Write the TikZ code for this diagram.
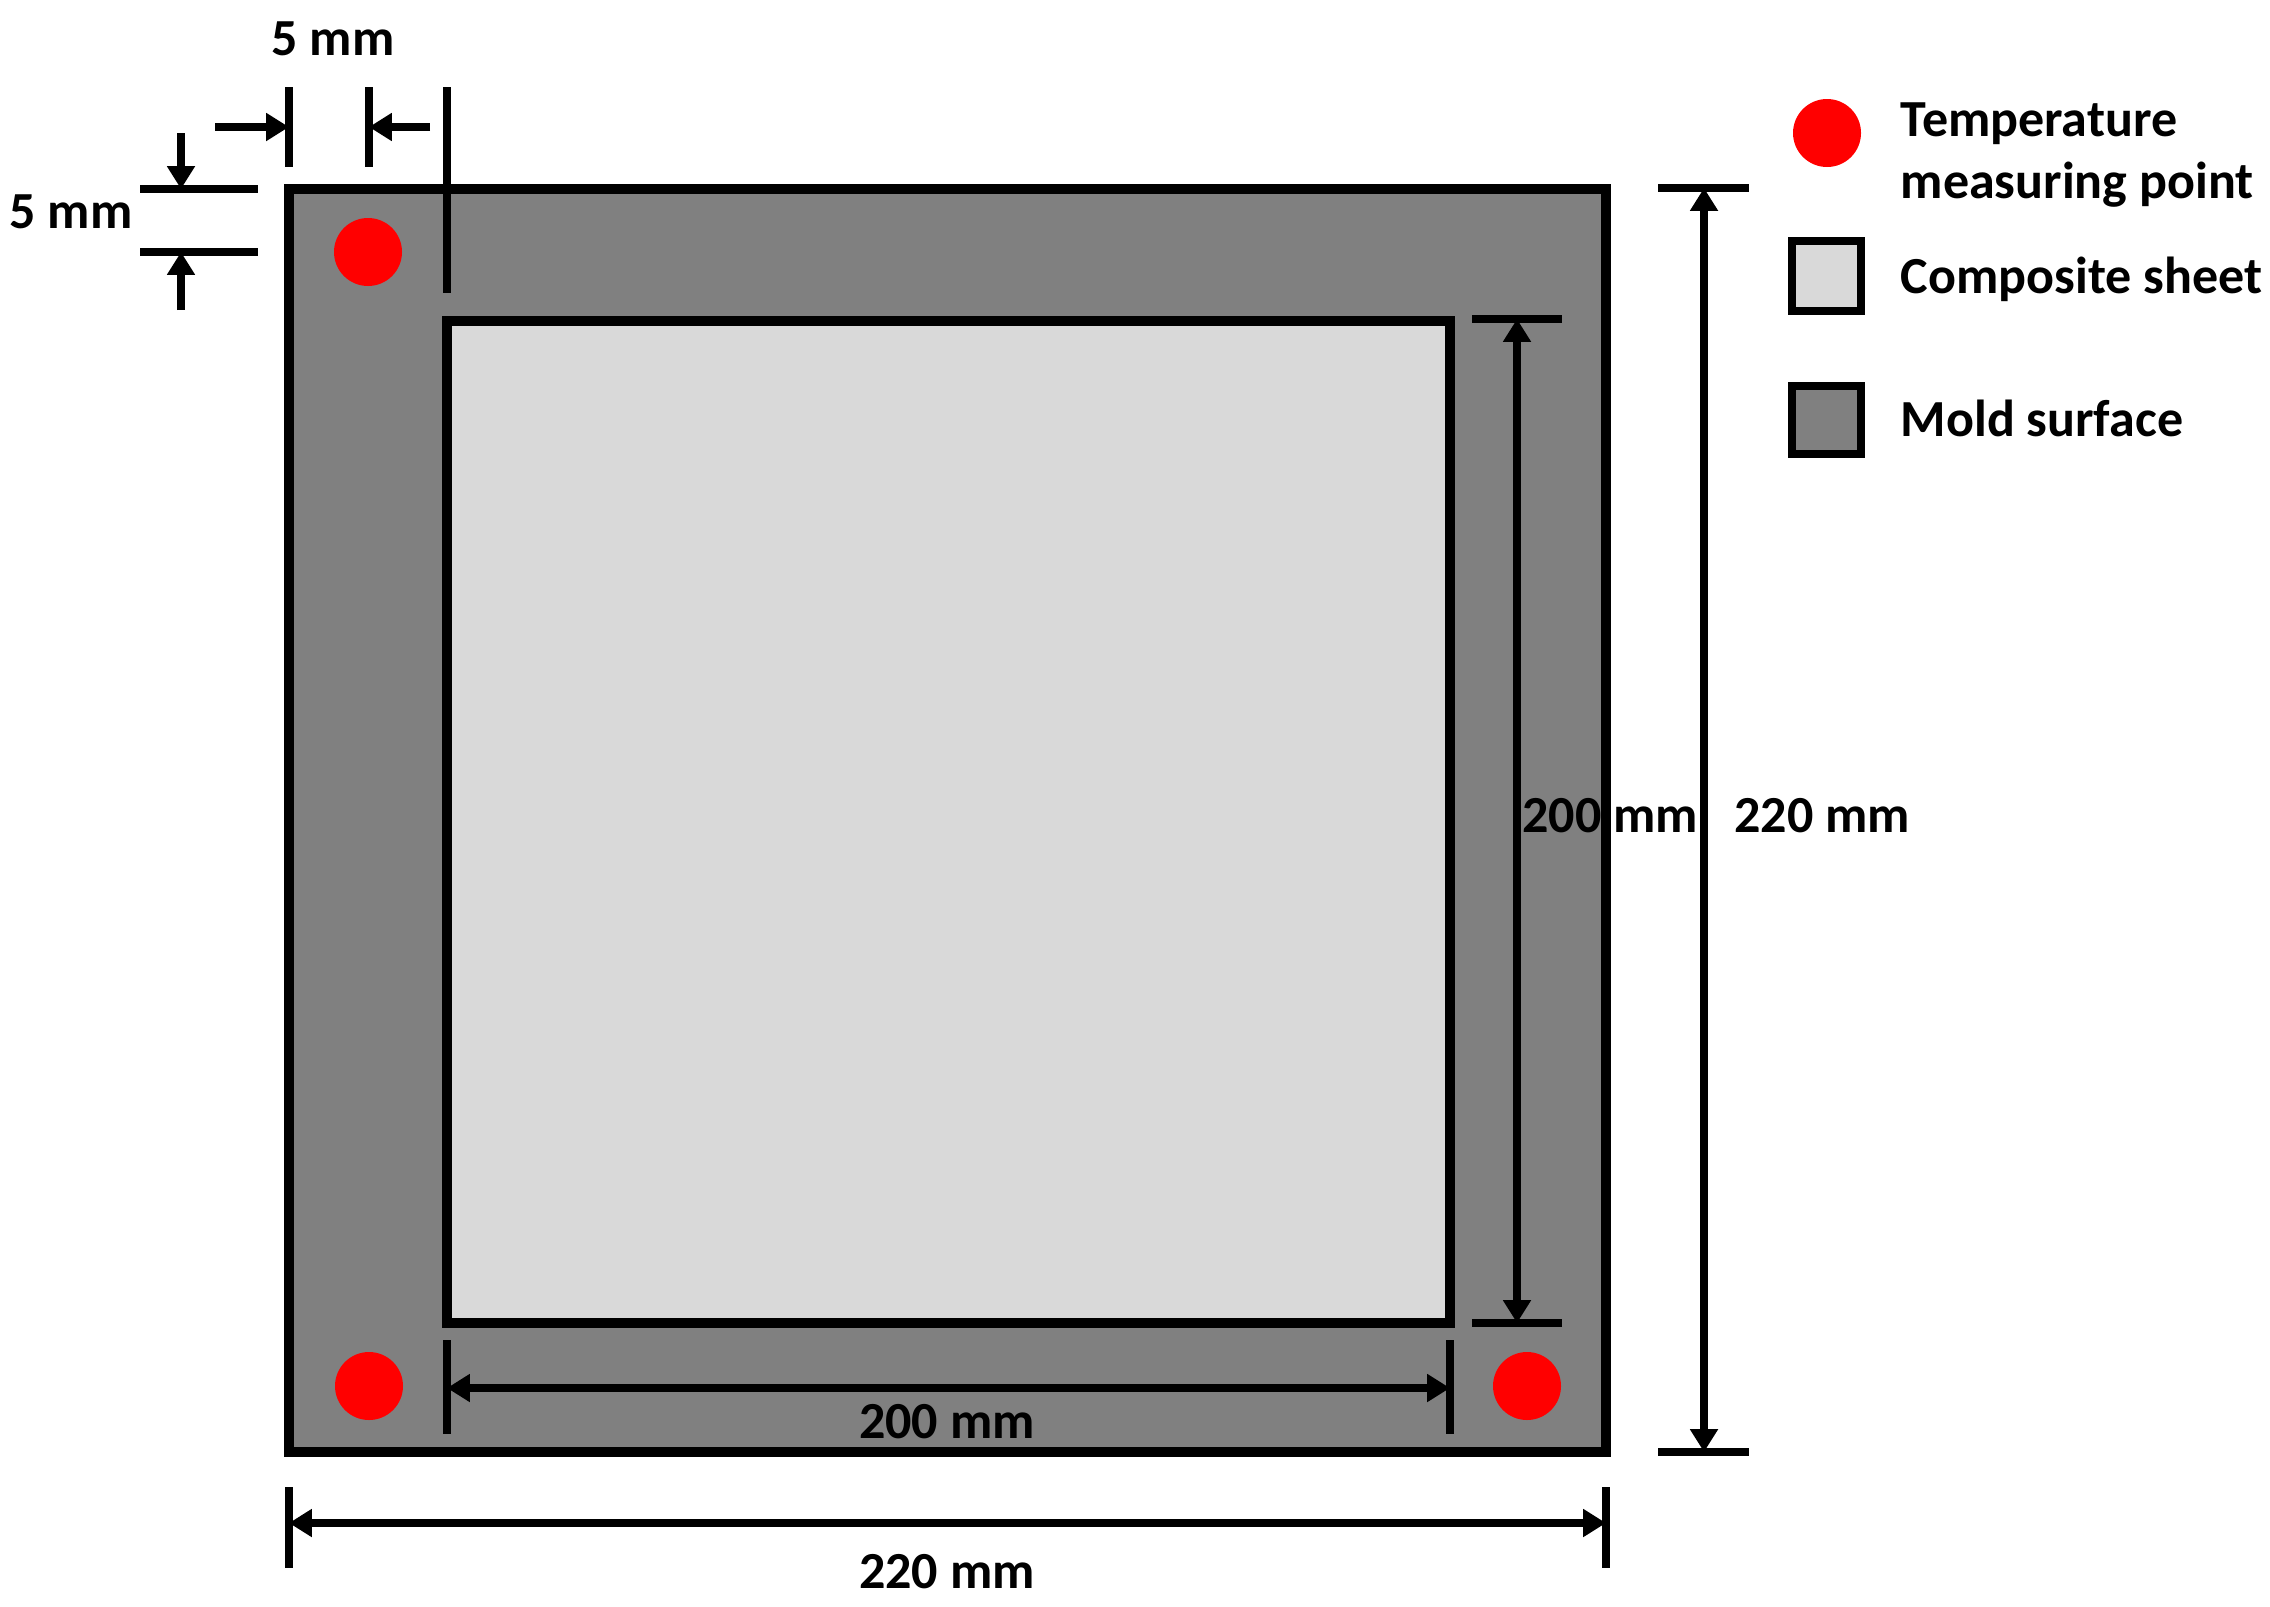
\documentclass[tikz,border=0pt]{standalone}
\usepackage{fontspec}
\setmainfont{Carlito}
\usetikzlibrary{arrows.meta}
\definecolor{mold}{HTML}{808080}
\definecolor{sheet}{HTML}{D9D9D9}
\definecolor{tpoint}{HTML}{FF0000}
\begin{document}
\begin{tikzpicture}[x=0.01cm,y=-0.01cm,
  lbl/.style={inner sep=0pt,anchor=base,font=\fontsize{14.8}{17}\selectfont\bfseries},
  leg/.style={inner sep=0pt,anchor=base west,font=\fontsize{14.8}{17}\selectfont\bfseries},
  tick/.style={line width=2.3pt},
  dimarrow/.style={line width=2.3pt,-{Triangle[length=6.5pt,width=7.6pt]}},
  dimboth/.style={line width=2.3pt,{Triangle[length=6.5pt,width=7.6pt]}-{Triangle[length=6.5pt,width=7.6pt]}},
  frame/.style={line width=2.6pt,line join=miter},
  dot/.style={fill=tpoint}]
\useasboundingbox (0,0) rectangle (2270,1606);
% mold and sheet
\coordinate (moldNW) at (289,189);
\coordinate (moldSE) at (1606,1452);
\coordinate (sheetNW) at (447,321);
\coordinate (sheetSE) at (1450,1323);
\filldraw[frame,fill=mold] (moldNW) rectangle (moldSE);
\filldraw[frame,fill=sheet] (sheetNW) rectangle (sheetSE);
% temperature points
\fill[dot] (368,252) circle (34);
\fill[dot] (369,1386) circle (34);
\fill[dot] (1527,1386) circle (34);
% top 5 mm
\coordinate (t1a) at (289,87); \coordinate (t1b) at (289,167);
\coordinate (t2a) at (369,87); \coordinate (t2b) at (369,167);
\coordinate (t3a) at (447,87); \coordinate (t3b) at (447,293);
\draw[tick] (t1a) -- (t1b);
\draw[tick] (t2a) -- (t2b);
\draw[tick] (t3a) -- (t3b);
\coordinate (a1s) at (215,127); \coordinate (a1e) at (289,127);
\coordinate (a2s) at (430,127); \coordinate (a2e) at (369,127);
\draw[dimarrow] (a1s) -- (a1e);
\draw[dimarrow] (a2s) -- (a2e);
\node[lbl] (top5) at (333,55) {5 mm};
% left 5 mm
\coordinate (h1a) at (140,189); \coordinate (h1b) at (258,189);
\coordinate (h2a) at (140,252); \coordinate (h2b) at (258,252);
\draw[tick] (h1a) -- (h1b);
\draw[tick] (h2a) -- (h2b);
\coordinate (a3s) at (181,133); \coordinate (a3e) at (181,189);
\coordinate (a4s) at (181,310); \coordinate (a4e) at (181,252);
\draw[dimarrow] (a3s) -- (a3e);
\draw[dimarrow] (a4s) -- (a4e);
\node[lbl] (left5) at (71,228) {5 mm};
% 200 mm horizontal
\coordinate (b1a) at (447,1340); \coordinate (b1b) at (447,1434);
\coordinate (b2a) at (1450,1340); \coordinate (b2b) at (1450,1434);
\draw[tick] (b1a) -- (b1b);
\draw[tick] (b2a) -- (b2b);
\coordinate (hb1) at (447,1388); \coordinate (hb2) at (1450,1388);
\draw[dimboth] (hb1) -- (hb2);
\node[lbl] (w200) at (947,1438) {200 mm};
% 200 mm vertical
\coordinate (r1a) at (1472,319); \coordinate (r1b) at (1562,319);
\coordinate (r2a) at (1472,1323); \coordinate (r2b) at (1562,1323);
\draw[tick] (r1a) -- (r1b);
\draw[tick] (r2a) -- (r2b);
\coordinate (vr1) at (1517,319); \coordinate (vr2) at (1517,1323);
\draw[dimboth] (vr1) -- (vr2);
\node[lbl] (h200) at (1610,832) {200 mm};
% 220 mm vertical
\coordinate (s1a) at (1658,188); \coordinate (s1b) at (1749,188);
\coordinate (s2a) at (1658,1452); \coordinate (s2b) at (1749,1452);
\draw[tick] (s1a) -- (s1b);
\draw[tick] (s2a) -- (s2b);
\coordinate (vs1) at (1704,188); \coordinate (vs2) at (1704,1452);
\draw[dimboth] (vs1) -- (vs2);
\node[lbl] (h220) at (1822,832) {220 mm};
% 220 mm horizontal
\coordinate (u1a) at (289,1487); \coordinate (u1b) at (289,1568);
\coordinate (u2a) at (1606,1487); \coordinate (u2b) at (1606,1568);
\draw[tick] (u1a) -- (u1b);
\draw[tick] (u2a) -- (u2b);
\coordinate (hu1) at (289,1523); \coordinate (hu2) at (1606,1523);
\draw[dimboth] (hu1) -- (hu2);
\node[lbl] (w220) at (947,1588) {220 mm};
% legend
\fill[dot] (1827,133) circle (34);
\filldraw[line width=2.4pt,fill=sheet] (1792,241) rectangle (1861,311);
\filldraw[line width=2.4pt,fill=mold] (1792,386) rectangle (1861,454);
\node[leg] (lg1) at (1900,136) {Temperature};
\node[leg] (lg2) at (1900,198) {measuring point};
\node[leg] (lg3) at (1900,293) {Composite sheet};
\node[leg] (lg4) at (1900,436) {Mold surface};
\end{tikzpicture}
\end{document}
